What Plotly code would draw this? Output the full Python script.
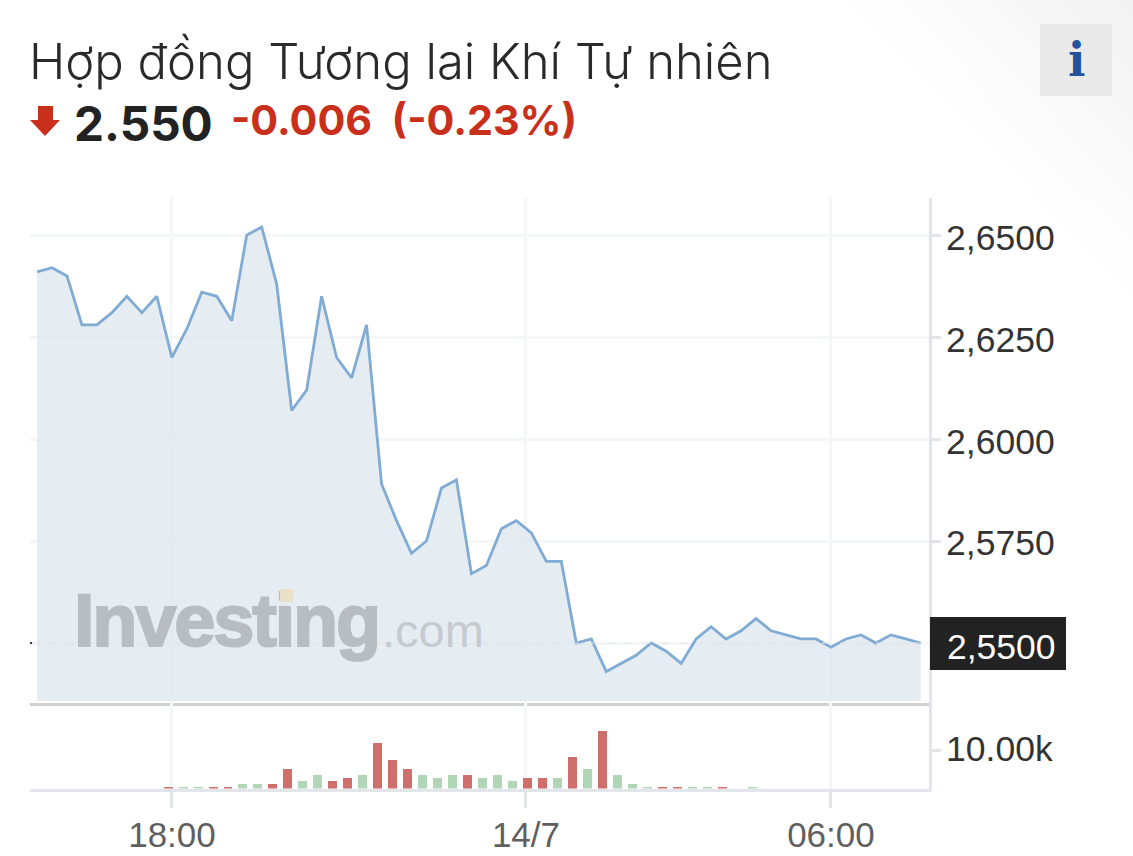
import plotly.graph_objects as go

W, H = 1133, 856
title = "Hợp đồng Tương lai Khí Tự nhiên"
price_text = "2.550"
change_text = "-0.006  (-0.23%)"
last_label = "2,5500"

price = [2.641, 2.642, 2.640, 2.628, 2.628, 2.631, 2.635, 2.631, 2.635, 2.620,
         2.627, 2.636, 2.635, 2.629, 2.650, 2.652, 2.638, 2.607, 2.612, 2.635,
         2.620, 2.615, 2.628, 2.589, 2.580, 2.572, 2.575, 2.588, 2.590, 2.567,
         2.569, 2.578, 2.580, 2.577, 2.570, 2.570, 2.550, 2.551, 2.543, 2.545,
         2.547, 2.550, 2.548, 2.545, 2.551, 2.554, 2.551, 2.553, 2.556, 2.553,
         2.552, 2.551, 2.551, 2.549, 2.551, 2.552, 2.550, 2.552, 2.551, 2.550]
index = list(range(len(price)))
area_floor = [2.5358] * len(price)

vol_index = list(range(9, 49))
volume = [0.5, 0.5, 0.5, 0.5, 0.5, 1.3, 1.3, 1.3, 5.1, 2.1, 3.6, 2.1, 2.8, 3.6, 12.1, 7.4, 5.1,
          3.6, 2.8, 3.6, 3.6, 2.8, 3.6, 2.1, 2.8, 2.8, 2.8, 8.2, 5.1, 15.1, 3.6, 1.3, 0.5, 0.5,
          0.5, 0.5, 0.5, 0.5, 0, 0.5]
vol_dir = ["r","g","g","r","r","g","g","r","r","g","g","r","r","g","r","r","r",
           "g","g","g","r","g","g","g","r","r","g","r","g","r","g","g","g","r",
           "r","g","g","r","g","g"]

price_ticks = [2.55, 2.575, 2.60, 2.625, 2.65]
price_labels = ["", "2,5750", "2,6000", "2,6250", "2,6500"]
x_ticks = [9.01, 32.64, 53.0]
x_labels = ["18:00", "14/7", "06:00"]
vol_ticks = [10]
vol_labels = ["10.00k"]

def px(x): return x / W
def py(y): return 1 - y / H

SANS = "Liberation Sans"
UI = "Inter"
AXIS = "#e2e5ea"
GRID = "#f5f6f8"
RED_BAR = "#cf6f6b"
GREEN_BAR = "#b0d5b7"
MARK = "#b8bdc1"

fig = go.Figure()
fig.add_trace(go.Scatter(x=index, y=area_floor, mode="lines", line=dict(width=0),
                         hoverinfo="skip", showlegend=False, xaxis="x", yaxis="y"))
fig.add_trace(go.Scatter(x=index, y=price, mode="lines", fill="tonexty",
                         fillcolor="rgba(219,230,237,0.7)",
                         line=dict(color="#80abd4", width=2.8), showlegend=False,
                         xaxis="x", yaxis="y"))
fig.add_trace(go.Bar(x=vol_index, y=volume, width=0.6, offset=-0.55,
                     marker=dict(color=[RED_BAR if d == "r" else GREEN_BAR for d in vol_dir], line_width=0),
                     showlegend=False, xaxis="x2", yaxis="y2"))

# faint page shading in the top-right corner
shade = [dict(type="path", xref="paper", yref="paper", layer="below", line_width=0,
              fillcolor="rgba(0,0,0,0.004)",
              path=f"M {px(W - 24 * k)} {py(0)} L {px(W)} {py(0)} L {px(W)} {py(25 * k)} Z")
         for k in range(1, 13)]

xr = [(30 - 37) / 14.98, (929 - 37) / 14.98]
fig.update_layout(
    width=W, height=H, margin=dict(l=0, r=0, t=0, b=0),
    paper_bgcolor="white", plot_bgcolor="rgba(0,0,0,0)", bargap=0,
    xaxis=dict(domain=[px(30), px(929)], range=xr, tickvals=x_ticks, ticktext=["", "", ""],
               showgrid=True, gridcolor=GRID, gridwidth=3, zeroline=False, anchor="y",
               showline=True, linecolor="#cfd0d2", linewidth=3, ticks=""),
    yaxis=dict(domain=[py(703), py(198)], range=[2.5353, 2.6591], side="right", anchor="x",
               tickvals=price_ticks, ticktext=price_labels, showgrid=True, gridcolor=GRID, gridwidth=3,
               zeroline=False, showline=True, linecolor=AXIS, linewidth=3,
               ticks="outside", ticklen=9, tickwidth=3, tickcolor=AXIS,
               ticklabelstandoff=-2, ticklabelshift=2,
               tickfont=dict(family=SANS, size=35.5, color="#333333")),
    xaxis2=dict(domain=[px(30), px(929)], range=xr, tickvals=x_ticks, ticktext=x_labels,
                showgrid=True, gridcolor=GRID, gridwidth=3, zeroline=False, anchor="y2",
                showline=True, linecolor=AXIS, linewidth=3, ticks="outside", ticklen=16,
                tickwidth=3, tickcolor=AXIS, tickangle=0, ticklabelstandoff=-3,
                tickfont=dict(family=SANS, size=35, color="#5f5f5f")),
    yaxis2=dict(domain=[py(788.5), py(703)], range=[0, 22.5], side="right", anchor="x2",
                tickvals=vol_ticks, ticktext=vol_labels, showgrid=False, zeroline=False,
                showline=True, linecolor=AXIS, linewidth=3, ticks="outside", ticklen=9,
                tickwidth=3, tickcolor=AXIS, ticklabelstandoff=-2, ticklabelshift=-2,
                tickfont=dict(family=SANS, size=35.5, color="#333333")),
    shapes=shade + [
        dict(type="line", xref="paper", yref="y", x0=px(30), x1=px(929), y0=2.55, y1=2.55,
             line=dict(color="#e3e5e8", width=1, dash="dash"), layer="above"),
        dict(type="rect", xref="paper", yref="paper", x0=px(30), x1=px(32), y0=py(644), y1=py(642),
             fillcolor="#333333", line_width=0),
        dict(type="rect", xref="paper", yref="paper", x0=px(930), x1=px(1066), y0=py(670), y1=py(617),
             fillcolor="#222222", line_width=0),
        dict(type="rect", xref="paper", yref="paper", x0=px(1040), x1=px(1112), y0=py(96), y1=py(24),
             fillcolor="#e9e9e9", line_width=0),
        dict(type="path", xref="paper", yref="paper",
             path=f"M {px(38)} {py(106)} L {px(53)} {py(106)} L {px(53)} {py(120)} L {px(60)} {py(120)} "
                  f"L {px(45)} {py(136)} L {px(30)} {py(120)} L {px(38)} {py(120)} Z",
             fillcolor="#c9301c", line_width=0),
    ],
)

def note(text, x, y, size, color, family=UI, anchor="left", weight=None):
    fig.add_annotation(xref="paper", yref="paper", x=px(x), y=py(y), text=text, showarrow=False,
                       xanchor=anchor, yanchor="middle",
                       font=dict(family=family, size=size, color=color, **({"weight": weight} if weight else {})))

note(title, 27, 61, 49, "#2a2a2a", weight=300)
note(price_text, 72, 124, 47.7, "#222222", weight=700)
note(change_text, 229, 120, 41.3, "#c9301c", weight=700)
note("i", 1076, 60, 46, "#25529c", family="DejaVu Serif", anchor="center", weight=700)
note(f'<span style="letter-spacing:-2.2px;stroke:{MARK};stroke-width:2px">Investing</span>',
     72, 620, 74, MARK, family=SANS, weight=700)
note(".com", 380, 630, 47, "#c5cacf", family=SANS)
fig.add_annotation(xref="paper", yref="paper", x=px(280), y=py(589), text=" ", showarrow=False,
                   xanchor="left", yanchor="top", width=13, height=13, bgcolor="#e8e0c8",
                   borderpad=0, borderwidth=0)
note(last_label, 1001.5, 647, 35.5, "#ffffff", family=SANS, anchor="center")

fig.write_html("out.html", config={"displayModeBar": False},
               post_script="document.body.style.margin='0';")
